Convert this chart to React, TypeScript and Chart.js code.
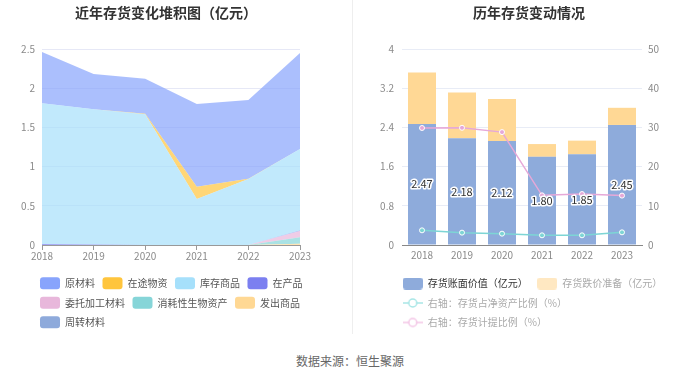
import React, { useEffect, useRef } from 'react';
import { Chart, registerables } from 'chart.js';

Chart.register(...registerables);

const FONT = '"Noto Sans CJK SC", "Noto Sans", sans-serif';
Chart.defaults.font.family = FONT;

// ---------- shared categories ----------
const years = ['2018', '2019', '2020', '2021', '2022', '2023'];

// ---------- left chart: stacked inventory composition (亿元) ----------
const yuanCaiLiao = [0.655, 0.45, 0.445, 1.056, 1.005, 1.226];
const zaiTuWuZi = [0, 0, 0.008, 0.157, 0.003, 0];
const kuCunShangPin = [1.795, 1.725, 1.667, 0.587, 0.842, 1.04];
const zaiChanPin = [0.012, 0.005, 0, 0, 0, 0.006];
const weiTuoJiaGong = [0, 0, 0, 0, 0, 0.08];
const xiaoHaoXing = [0, 0, 0, 0, 0, 0.083];
const faChuShangPin = [0, 0, 0, 0, 0, 0.015];
const zhouZhuanCaiLiao = [0, 0, 0, 0, 0, 0];
const leftYTicks = ['0', '0.5', '1', '1.5', '2', '2.5'];

// ---------- right chart ----------
const bookValue = [2.47, 2.18, 2.12, 1.8, 1.85, 2.45];
const impairment = [1.05, 0.93, 0.86, 0.26, 0.28, 0.35];
const netAssetRatio = [3.74, 3.15, 2.89, 2.47, 2.47, 3.23];
const provisionRatio = [29.85, 29.9, 28.8, 12.67, 13.0, 12.6];
const rightYTicks = ['0', '0.8', '1.6', '2.4', '3.2', '4'];
const rightY1Ticks = ['0', '10', '20', '30', '40', '50'];

// legend order
const leftSeries = [
  { name: '原材料', data: yuanCaiLiao, color: '#88a4fc' },
  { name: '在途物资', data: zaiTuWuZi, color: '#ffc53d' },
  { name: '库存商品', data: kuCunShangPin, color: '#a6e0fb' },
  { name: '在产品', data: zaiChanPin, color: '#7b7ff0' },
  { name: '委托加工材料', data: weiTuoJiaGong, color: '#e8b7db' },
  { name: '消耗性生物资产', data: xiaoHaoXing, color: '#86d5d8' },
  { name: '发出商品', data: faChuShangPin, color: '#ffd894' },
  { name: '周转材料', data: zhouZhuanCaiLiao, color: '#8eaadb' },
];
// stacking order (bottom -> top) is the reverse of the legend order
const stackSeries = [...leftSeries].reverse();

function hexA(hex: string, a: number) {
  const n = parseInt(hex.slice(1), 16);
  return `rgba(${(n >> 16) & 255},${(n >> 8) & 255},${n & 255},${a})`;
}

function makeBox(color: string) {
  const c = document.createElement('canvas');
  c.width = 20;
  c.height = 12;
  const g = c.getContext('2d')!;
  g.fillStyle = color;
  g.beginPath();
  (g as any).roundRect(0, 0, 20, 12, 3);
  g.fill();
  return c;
}

function makeLineMarker(color: string) {
  const c = document.createElement('canvas');
  c.width = 20;
  c.height = 12;
  const g = c.getContext('2d')!;
  g.strokeStyle = color;
  g.lineWidth = 1.5;
  g.beginPath();
  g.moveTo(0, 6);
  g.lineTo(20, 6);
  g.stroke();
  g.beginPath();
  g.arc(10, 6, 4, 0, Math.PI * 2);
  g.fillStyle = '#fff';
  g.fill();
  g.stroke();
  return c;
}

// moves the legend block horizontally so it starts at the given offset
const legendShift = (x: number) => ({
  id: 'legendShift',
  beforeDraw(chart: any) {
    const lg = chart.legend;
    if (lg) {
      const w = lg.right - lg.left;
      lg.left = x;
      lg.right = x + w;
    }
  },
});

const barLabelPlugin = {
  id: 'barLabels',
  afterDatasetsDraw(chart: any) {
    const meta = chart.getDatasetMeta(0);
    const ctx = chart.ctx;
    ctx.save();
    ctx.font = `11px ${FONT}`;
    ctx.textAlign = 'center';
    ctx.textBaseline = 'middle';
    ctx.lineWidth = 3;
    ctx.lineJoin = 'round';
    ctx.strokeStyle = '#fff';
    ctx.fillStyle = '#333';
    meta.data.forEach((el: any, i: number) => {
      const { x, y, base } = el.getProps(['x', 'y', 'base'], true);
      const txt = bookValue[i].toFixed(2);
      const cy = (y + base) / 2;
      ctx.strokeText(txt, x, cy);
      ctx.fillText(txt, x, cy);
    });
    ctx.restore();
  },
};

const tickFont = { size: 10 };
const tickColor = '#8a8a8a';

export default function App() {
  const leftRef = useRef<HTMLCanvasElement>(null);
  const rightRef = useRef<HTMLCanvasElement>(null);

  useEffect(() => {
    const left = new Chart(leftRef.current!, {
      type: 'line',
      data: {
        labels: years,
        datasets: stackSeries.map((s, i) => ({
          label: s.name,
          data: s.data,
          backgroundColor: hexA(s.color, 0.7),
          borderColor: hexA(s.color, 0.7),
          borderWidth: 0,
          pointRadius: 0,
          tension: 0,
          fill: i === 0 ? 'origin' : '-1',
        })),
      },
      options: {
        animation: false,
        responsive: true,
        maintainAspectRatio: false,
        layout: { padding: { left: 0, right: 10, top: 49, bottom: 6.7 } },
        plugins: {
          tooltip: { enabled: false },
          legend: {
            position: 'bottom',
            align: 'start',
            labels: {
              boxWidth: 20,
              boxHeight: 12,
              padding: 7.5,
              color: '#555',
              font: { size: 10 },
              generateLabels: () =>
                leftSeries.map((s) => ({
                  text: s.name,
                  fillStyle: s.color,
                  strokeStyle: s.color,
                  lineWidth: 0,
                  hidden: false,
                  datasetIndex: stackSeries.indexOf(s),
                  borderRadius: 3,
                  fontColor: '#555',
                })),
            },
          },
        },
        scales: {
          x: {
            type: 'category',
            offset: false,
            grid: { display: true, drawOnChartArea: false, drawTicks: true, tickLength: 5, color: '#999' },
            border: { display: true, color: '#999' },
            ticks: { color: tickColor, font: tickFont, padding: 0, maxRotation: 0, autoSkip: false },
            afterFit: (s: any) => {
              s.height = 24.8;
            },
          },
          y: {
            stacked: true,
            min: 0,
            max: 2.5,
            ticks: { stepSize: 0.5, color: tickColor, font: tickFont, padding: 7, callback: (_v: any, i: number) => leftYTicks[i] },
            grid: { color: '#e6e8f6', drawTicks: false },
            border: { display: false },
            afterFit: (s: any) => {
              s.width = 42;
            },
          },
          yPad: {
            type: 'linear',
            position: 'right',
            display: true,
            ticks: { display: false },
            grid: { display: false, drawTicks: false },
            border: { display: false },
            afterFit: (s: any) => {
              s.width = 40;
            },
          },
        },
      } as any,
      plugins: [legendShift(32.5)],
    });

    const rightMarkers = [
      { img: makeBox('#8eabdb'), color: '#333', idx: 0 },
      { img: makeBox('#ffe8c2'), color: '#aaa', idx: 1 },
      { img: makeLineMarker('#a8e6e6'), color: '#aaa', idx: 2 },
      { img: makeLineMarker('#f3c6e6'), color: '#aaa', idx: 3 },
    ];

    const right = new Chart(rightRef.current!, {
      type: 'bar',
      data: {
        labels: years,
        datasets: [
          {
            type: 'bar',
            label: '存货账面价值（亿元）',
            data: bookValue,
            backgroundColor: '#8eabdb',
            stack: 's',
            yAxisID: 'y',
            order: 2,
            categoryPercentage: 1,
            barPercentage: 0.7,
          },
          {
            type: 'bar',
            label: '存货跌价准备（亿元）',
            data: impairment,
            backgroundColor: '#ffd895',
            stack: 's',
            yAxisID: 'y',
            order: 2,
            categoryPercentage: 1,
            barPercentage: 0.7,
          },
          {
            type: 'line',
            label: '右轴：存货占净资产比例（%）',
            data: netAssetRatio,
            borderColor: '#7dd5d5',
            backgroundColor: '#7dd5d5',
            yAxisID: 'y1',
            order: 1,
            borderWidth: 1.5,
            pointRadius: 2.5,
            pointBackgroundColor: '#7dd5d5',
            pointBorderColor: '#fff',
            pointBorderWidth: 1,
            tension: 0,
            fill: false,
          },
          {
            type: 'line',
            label: '右轴：存货计提比例（%）',
            data: provisionRatio,
            borderColor: '#e6a8d8',
            backgroundColor: '#e6a8d8',
            yAxisID: 'y1',
            order: 1,
            borderWidth: 1.5,
            pointRadius: 2.5,
            pointBackgroundColor: '#e6a8d8',
            pointBorderColor: '#fff',
            pointBorderWidth: 1,
            tension: 0,
            fill: false,
          },
        ],
      },
      options: {
        animation: false,
        responsive: true,
        maintainAspectRatio: false,
        layout: { padding: { left: 0, right: 30, top: 49, bottom: 7.5 } },
        plugins: {
          tooltip: { enabled: false },
          legend: {
            position: 'bottom',
            align: 'start',
            labels: {
              usePointStyle: true,
              pointStyleWidth: 20,
              padding: 9.5,
              font: { size: 10 },
              generateLabels: (chart: any) =>
                rightMarkers.map((m) => ({
                  text: chart.data.datasets[m.idx].label,
                  fillStyle: '#fff',
                  strokeStyle: '#fff',
                  lineWidth: 0,
                  hidden: false,
                  datasetIndex: m.idx,
                  pointStyle: m.img,
                  fontColor: m.color,
                })),
            },
          },
        },
        scales: {
          x: {
            stacked: true,
            offset: true,
            grid: { display: false, drawTicks: false },
            border: { display: true, color: '#888' },
            ticks: { color: tickColor, font: tickFont, padding: 4, maxRotation: 0, autoSkip: false },
            afterFit: (s: any) => {
              s.height = 24;
            },
          },
          y: {
            stacked: true,
            position: 'left',
            min: 0,
            max: 4,
            ticks: { stepSize: 0.8, color: tickColor, font: tickFont, padding: 8, callback: (_v: any, i: number) => rightYTicks[i] },
            grid: { color: '#e8ecf6', drawTicks: false },
            border: { display: false },
            afterFit: (s: any) => {
              s.width = 52;
            },
          },
          y1: {
            position: 'right',
            min: 0,
            max: 50,
            ticks: { stepSize: 10, color: tickColor, font: tickFont, padding: 6, callback: (_v: any, i: number) => rightY1Ticks[i] },
            grid: { display: false, drawTicks: false },
            border: { display: false },
            afterFit: (s: any) => {
              s.width = 28;
            },
          },
        },
      } as any,
      plugins: [barLabelPlugin, legendShift(43.2)],
    });

    return () => {
      left.destroy();
      right.destroy();
    };
  }, []);

  const titleStyle: React.CSSProperties = {
    position: 'absolute',
    top: 3,
    width: 300,
    textAlign: 'center',
    fontFamily: FONT,
    fontWeight: 700,
    fontSize: 14,
    lineHeight: '18px',
    color: '#333',
    whiteSpace: 'nowrap',
  };

  return (
    <div style={{ position: 'absolute', left: 0, top: 0, width: 700, height: 378, background: '#fff', overflow: 'hidden' }}>
      <div style={{ position: 'absolute', left: 0, top: 0, width: 350, height: 345 }}>
        <canvas ref={leftRef} />
      </div>
      <div style={{ position: 'absolute', left: 350, top: 0, width: 350, height: 345 }}>
        <canvas ref={rightRef} />
      </div>
      <div style={{ position: 'absolute', left: 352, top: 0, width: 1, height: 334, background: '#eeeeee' }} />
      <div style={{ ...titleStyle, left: 166 - 150 }}>近年存货变化堆积图（亿元）</div>
      <div style={{ ...titleStyle, left: 529 - 150 }}>历年存货变动情况</div>
      <div
        style={{
          position: 'absolute',
          left: 200,
          width: 300,
          top: 353,
          textAlign: 'center',
          fontFamily: FONT,
          fontSize: 12,
          lineHeight: '16px',
          color: '#666',
        }}
      >
        数据来源：恒生聚源
      </div>
    </div>
  );
}
